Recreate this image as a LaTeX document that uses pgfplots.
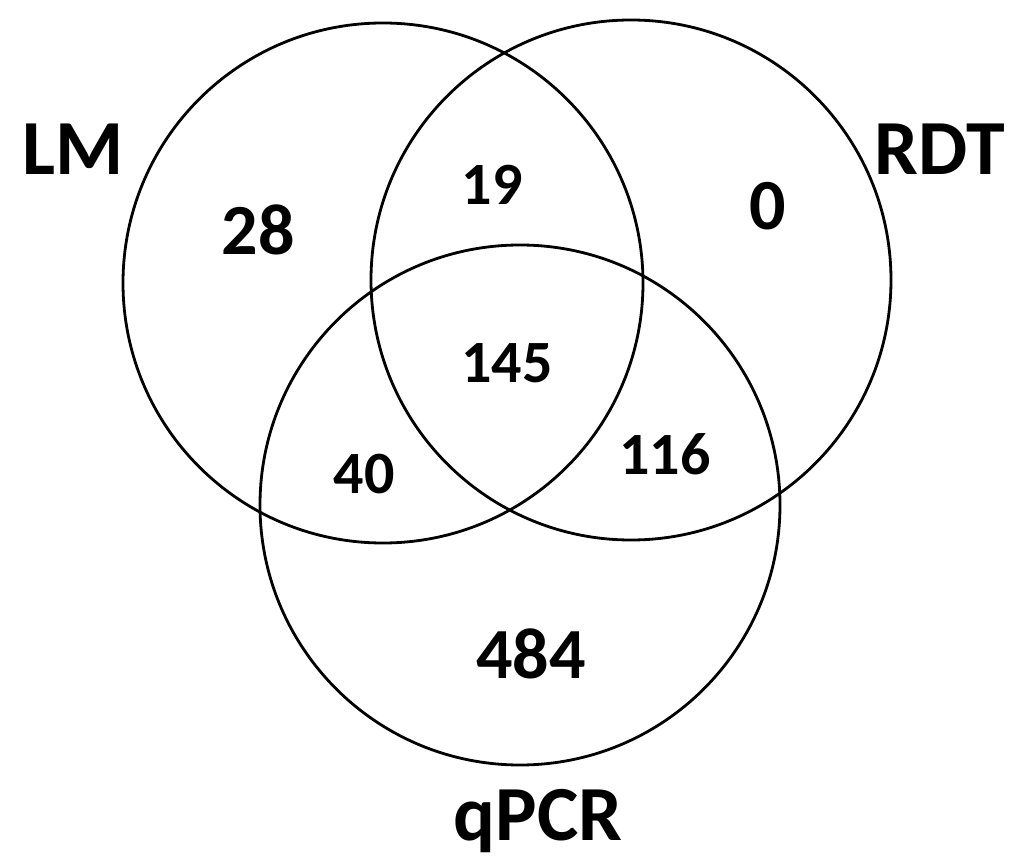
\documentclass[border=0pt]{standalone}
\usepackage{pgfplots}
\pgfplotsset{compat=1.18}
\usepackage{fontspec}
\setmainfont{Carlito}
\begin{document}
\begin{tikzpicture}
\begin{axis}[
  hide axis, scale only axis, width=517pt, height=433pt,
  xmin=0, xmax=1034, ymin=0, ymax=866, y dir=reverse, clip=false]
% circles: centres (pixel units), radius 260 px = 130pt
\addplot[only marks, mark=o, mark size=130pt, mark options={line width=1.4pt, draw=black, fill=none}]
  coordinates {(383,283) (631,280) (520,505)};
% large counts
\addplot[only marks, mark=none, point meta=explicit symbolic, nodes near coords,
  nodes near coords style={font=\fontsize{36}{40}\selectfont\bfseries, anchor=base, inner sep=0pt, yshift=0pt}]
  table[meta=label] {
x y label
258 255 28
768 230 0
531 678 484
};
% smaller counts
\addplot[only marks, mark=none, point meta=explicit symbolic, nodes near coords,
  nodes near coords style={font=\fontsize{30}{34}\selectfont\bfseries, anchor=base, inner sep=0pt}]
  table[meta=label] {
x y label
492 205 19
507 382 145
364 493 40
665 474 116
};
% set labels
\addplot[only marks, mark=none, point meta=explicit symbolic, nodes near coords,
  nodes near coords style={font=\fontsize{39}{44}\selectfont\bfseries, anchor=base, inner sep=0pt}]
  table[meta=label] {
x y label
73 175 LM
940 175 RDT
538 840 qPCR
};
\end{axis}
\pgfresetboundingbox
\path (current axis.south west) rectangle (current axis.north east);
\end{tikzpicture}
\end{document}
